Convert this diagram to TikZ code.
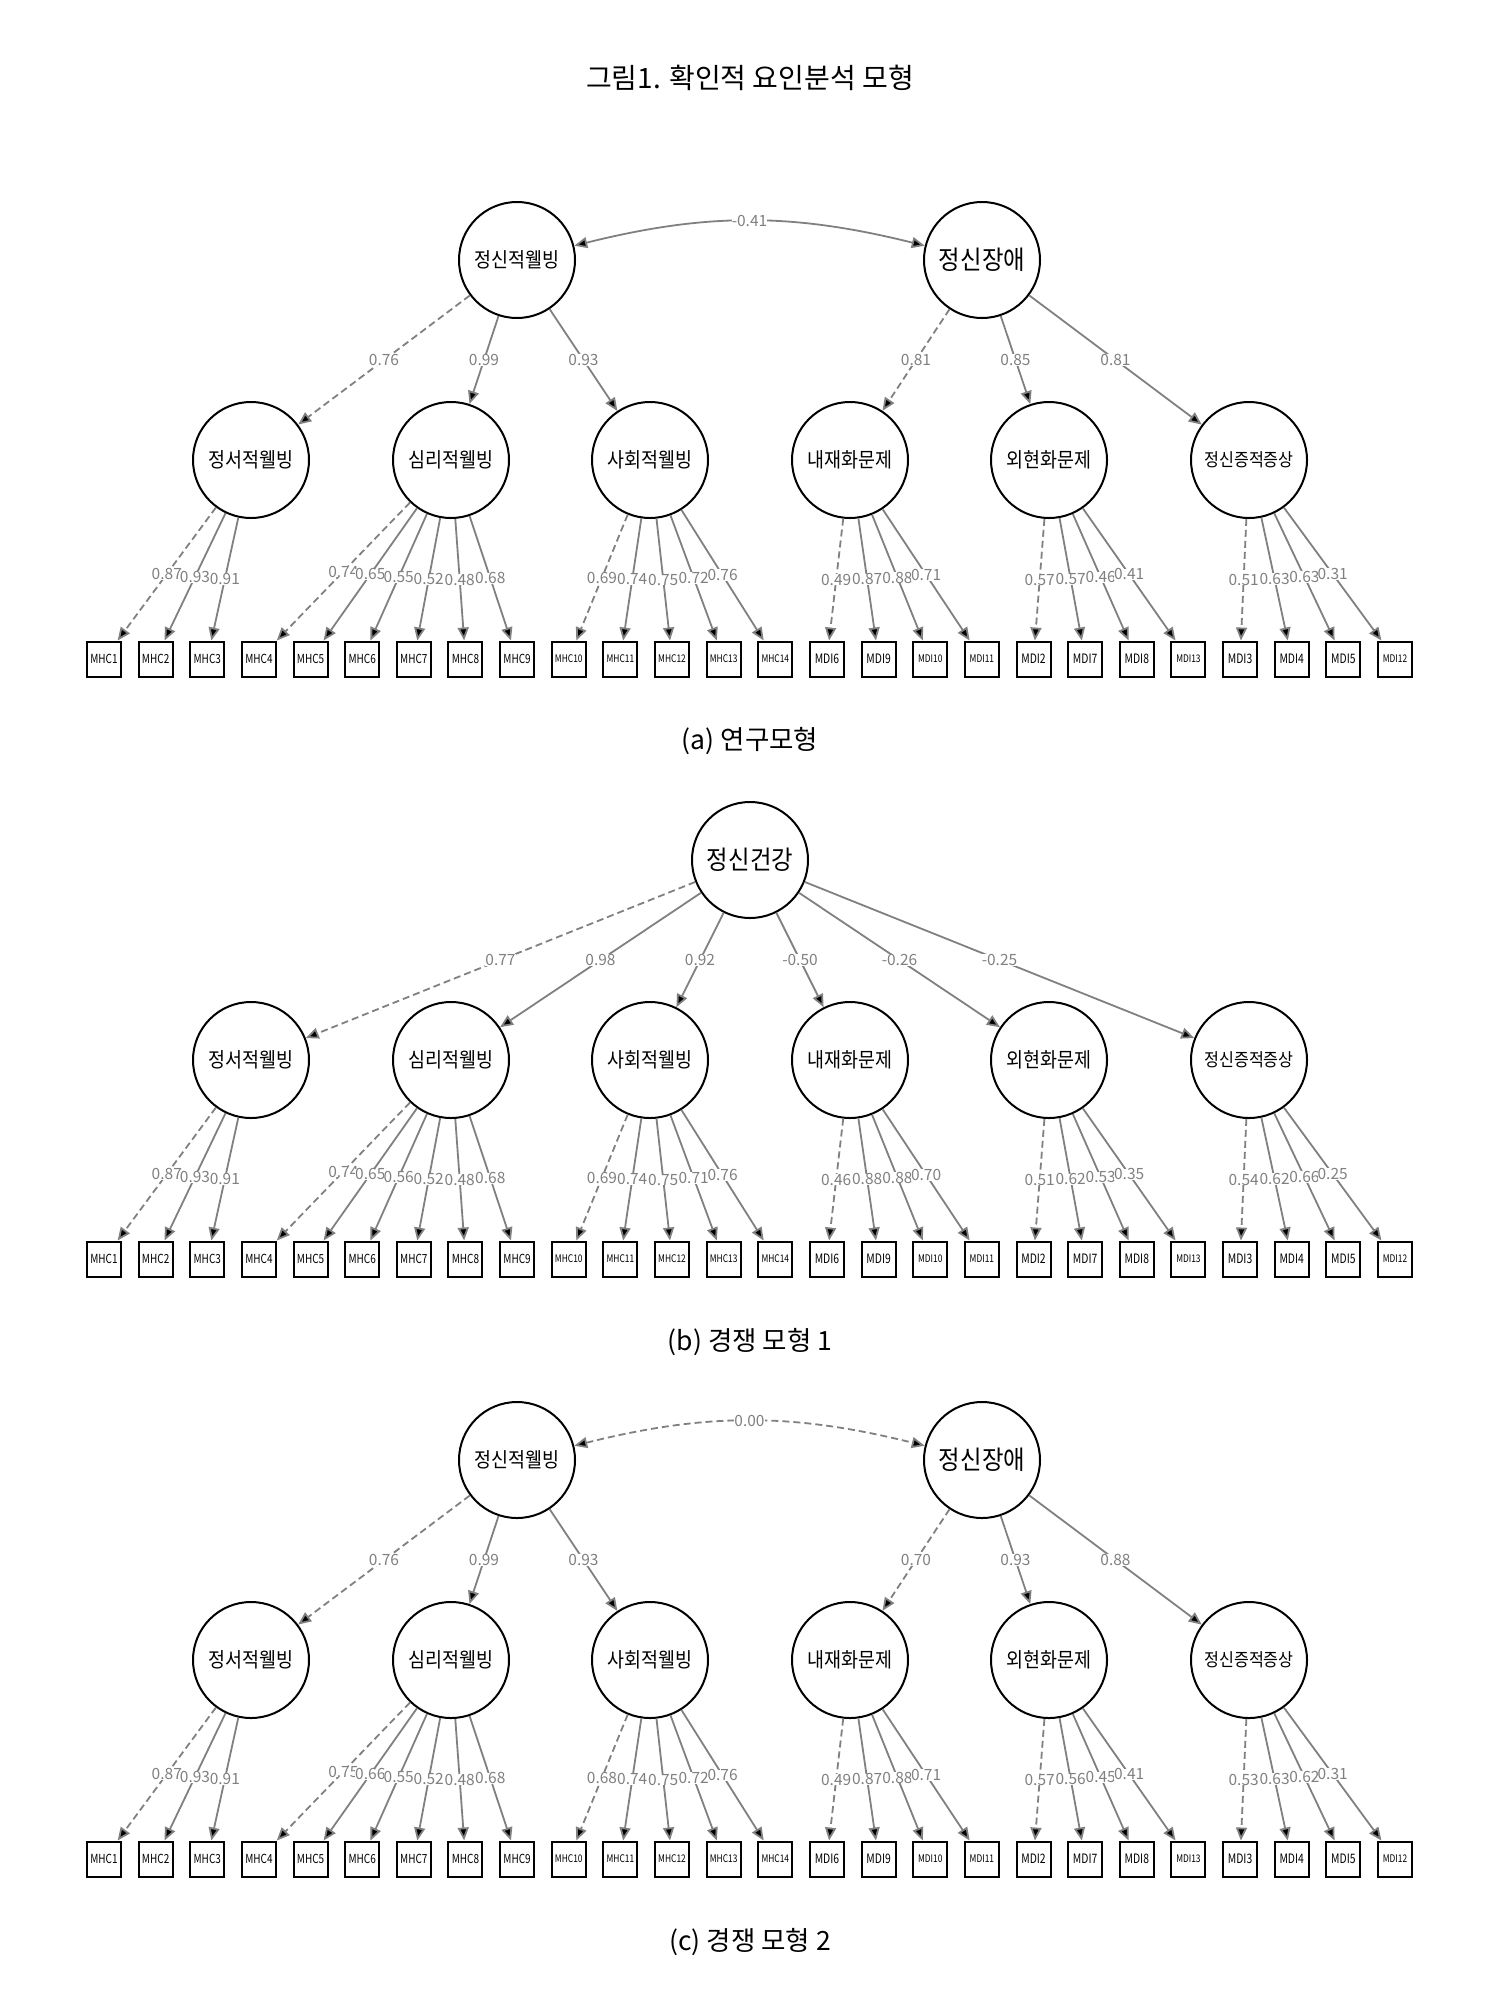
\documentclass[tikz,border=0pt]{standalone}
\usepackage{fontspec}
\setmainfont{Noto Sans CJK KR}
\newfontfamily\labfont[FakeStretch=0.9]{Noto Sans CJK KR}
\newfontfamily\itemfont[FakeStretch=0.8]{Noto Sans CJK KR}
\usetikzlibrary{arrows.meta}
\definecolor{pathgray}{RGB}{128,128,128}
\newcommand{\fsz}[1]{\fontsize{#1}{#1}\selectfont}

\tikzset{
	lat/.style={circle,draw,line width=2pt,minimum size=116pt,inner sep=0pt,font=\labfont\fsz{20.5}},
	obs/.style={rectangle,draw,line width=2pt,minimum width=34pt,minimum height=35pt,inner sep=0pt},
	load/.style={->,draw=pathgray,line width=1.8pt},
	fixed/.style={load,dash pattern=on 7pt off 4pt},
	wt/.style={text=pathgray,fill=white,inner sep=0pt,font=\fsz{15.5}},
	caption/.style={font=\fsz{26.5}},
}

\begin{document}
\begin{tikzpicture}[x=1pt,y=-1pt,>={Triangle[length=13pt,width=11pt]}]
	\useasboundingbox (0,0) rectangle (1500,2000);
	\node[font=\fsz{28}] (title) at (750,78) {그림1. 확인적 요인분석 모형};
	\node[caption] (capA) at (750,741) {(a) 연구모형};
	\node[caption] (capB) at (750,1342) {(b) 경쟁 모형 1};
	\node[caption] (capC) at (750,1942) {(c) 경쟁 모형 2};

	% upper factors
	\node[lat] (aMWB) at (517,260) {정신적웰빙};
	\node[lat,font=\labfont\fsz{26}] (aMD) at (982,260) {정신장애};
	\node[lat,font=\labfont\fsz{26}] (bMH) at (750,860) {정신건강};
	\node[lat] (cMWB) at (517,1460) {정신적웰빙};
	\node[lat,font=\labfont\fsz{26}] (cMD) at (982,1460) {정신장애};

	% factors and items, the same in every panel
	\foreach \p/\dy in {a/0,b/600,c/1200} {
		\node[lat] (\p EWB) at (251,460+\dy) {정서적웰빙};
		\node[lat] (\p PWB) at (451,460+\dy) {심리적웰빙};
		\node[lat] (\p SWB) at (650,460+\dy) {사회적웰빙};
		\node[lat] (\p INT) at (850,460+\dy) {내재화문제};
		\node[lat] (\p EXT) at (1049,460+\dy) {외현화문제};
		\node[lat,font=\labfont\fsz{18}] (\p PSY) at (1249,460+\dy) {정신증적증상};
		\foreach \lbl/\s [count=\k from 0] in {MHC1/12.5,MHC2/12.5,MHC3/12.5,MHC4/12.5,MHC5/12.5,MHC6/12.5,MHC7/12.5,MHC8/12.5,MHC9/12.5,
				MHC10/10.5,MHC11/10.5,MHC12/10.5,MHC13/10.5,MHC14/10.5,MDI6/13,MDI9/13,MDI10/10.5,MDI11/10.5,
				MDI2/13,MDI7/13,MDI8/13,MDI13/10.5,MDI3/13,MDI4/13,MDI5/13,MDI12/10.5}
			\node[obs,font=\itemfont\fsz{\s}] (\p\k) at (104+51.64*\k,659+\dy) {\lbl};
	}

	% (a)
	\path[fixed] (aMWB) edge node[wt]{0.76} (aEWB);
	\path[load]
		(aMWB) edge node[wt]{0.99} (aPWB)
		(aMWB) edge node[wt]{0.93} (aSWB)
		(aMD) edge node[wt]{0.85} (aEXT)
		(aMD) edge node[wt]{0.81} (aPSY);
	\path[fixed] (aMD) edge node[wt]{0.81} (aINT);
	\path[load,<->] (aMWB) edge[bend left=14] node[wt]{-0.41} (aMD);

	% (b)
	\path[fixed] (bMH) edge node[wt]{0.77} (bEWB);
	\path[load]
		(bMH) edge node[wt]{0.98} (bPWB)
		(bMH) edge node[wt]{0.92} (bSWB)
		(bMH) edge node[wt]{-0.50} (bINT)
		(bMH) edge node[wt]{-0.26} (bEXT)
		(bMH) edge node[wt]{-0.25} (bPSY);

	% (c)
	\path[fixed] (cMWB) edge node[wt]{0.76} (cEWB);
	\path[load]
		(cMWB) edge node[wt]{0.99} (cPWB)
		(cMWB) edge node[wt]{0.93} (cSWB)
		(cMD) edge node[wt]{0.93} (cEXT)
		(cMD) edge node[wt]{0.88} (cPSY);
	\path[fixed] (cMD) edge node[wt]{0.70} (cINT);
	\path[fixed,<->] (cMWB) edge[bend left=14] node[wt]{0.00} (cMD);

	% item loadings: factor/item/line/(a)/(b)/(c)
	\foreach \f/\k/\s/\wa/\wb/\wc in {
			EWB/0/fixed/0.87/0.87/0.87, EWB/1/load/0.93/0.93/0.93, EWB/2/load/0.91/0.91/0.91,
			PWB/3/fixed/0.74/0.74/0.75, PWB/4/load/0.65/0.65/0.66, PWB/5/load/0.55/0.56/0.55,
			PWB/6/load/0.52/0.52/0.52, PWB/7/load/0.48/0.48/0.48, PWB/8/load/0.68/0.68/0.68,
			SWB/9/fixed/0.69/0.69/0.68, SWB/10/load/0.74/0.74/0.74, SWB/11/load/0.75/0.75/0.75,
			SWB/12/load/0.72/0.71/0.72, SWB/13/load/0.76/0.76/0.76,
			INT/14/fixed/0.49/0.46/0.49, INT/15/load/0.87/0.88/0.87, INT/16/load/0.88/0.88/0.88, INT/17/load/0.71/0.70/0.71,
			EXT/18/fixed/0.57/0.51/0.57, EXT/19/load/0.57/0.62/0.56, EXT/20/load/0.46/0.53/0.45, EXT/21/load/0.41/0.35/0.41,
			PSY/22/fixed/0.51/0.54/0.53, PSY/23/load/0.63/0.62/0.63, PSY/24/load/0.63/0.66/0.62, PSY/25/load/0.31/0.25/0.31}
		\path[\s] (a\f) edge node[wt]{\wa} (a\k) (b\f) edge node[wt]{\wb} (b\k) (c\f) edge node[wt]{\wc} (c\k);
\end{tikzpicture}
\end{document}
